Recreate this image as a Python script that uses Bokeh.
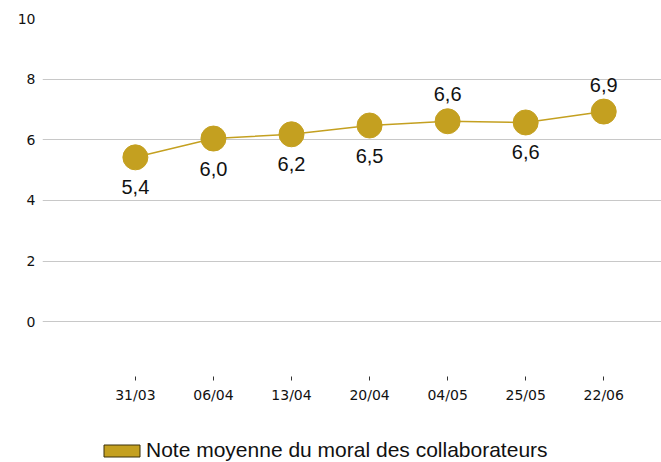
from bokeh.plotting import figure
from bokeh.layouts import column
from bokeh.models import ColumnDataSource, FixedTicker, Legend, LegendItem
from bokeh.core.properties import value
from bokeh.embed import file_html
from bokeh.resources import INLINE

dates = ["31/03", "06/04", "13/04", "20/04", "04/05", "25/05", "22/06"]
notes = [5.42, 6.04, 6.18, 6.47, 6.61, 6.57, 6.93]
label_side = ["below", "below", "below", "below", "above", "below", "above"]
series_name = "Note moyenne du moral des collaborateurs"
y_ticks = [0, 2, 4, 6, 8, 10]

GOLD = "#C4A020"

xs = list(range(len(dates)))
labels = [f"{v:.1f}".replace(".", ",") for v in notes]
offsets = [30 if s == "below" else -27 for s in label_side]

src = ColumnDataSource(dict(x=xs, y=notes, lab=labels, off=offsets))

p = figure(width=661, height=405, output_backend="svg", toolbar_location=None,
           x_range=(-1.19, 6.74), y_range=(-1.81, 10),
           min_border_left=42, min_border_right=0, min_border_top=18, min_border_bottom=28)
p.outline_line_color = None
p.background_fill_color = "white"

p.line("x", "y", source=src, line_color=GOLD, line_width=1.5)
p.scatter("x", "y", source=src, size=25, fill_color=GOLD, line_color=GOLD)
p.text("x", "y", text="lab", source=src, y_offset="off",
       text_align="center", text_baseline="middle",
       text_font=value("Liberation Sans"), text_font_size="20px", text_color="#111111")

# axes
p.yaxis.ticker = FixedTicker(ticks=y_ticks)
p.yaxis.axis_line_color = None
p.yaxis.major_tick_line_color = None
p.yaxis.minor_tick_line_color = None
p.yaxis.major_tick_in = 0
p.yaxis.major_tick_out = 0
p.yaxis.major_label_text_font = "DejaVu Sans"
p.yaxis.major_label_text_font_size = "14px"
p.yaxis.major_label_text_color = "#111111"
p.yaxis.major_label_standoff = 7

p.xaxis.ticker = FixedTicker(ticks=xs)
p.xaxis.major_label_overrides = {i: d for i, d in enumerate(dates)}
p.xaxis.axis_line_color = None
p.xaxis.major_tick_in = 0
p.xaxis.major_tick_out = 4
p.xaxis.major_tick_line_color = "#333333"
p.xaxis.minor_tick_line_color = None
p.xaxis.major_label_text_font = "DejaVu Sans"
p.xaxis.major_label_text_font_size = "14px"
p.xaxis.major_label_text_color = "#111111"
p.xaxis.major_label_standoff = 6

p.ygrid.grid_line_color = "#c8c8c8"
p.ygrid.grid_line_width = 1
p.xgrid.grid_line_color = None

# legend figure
lf = figure(width=661, height=57, output_backend="svg", toolbar_location=None,
            x_range=(0, 1), y_range=(0, 1), min_border=0)
lf.axis.visible = False
lf.grid.visible = False
lf.outline_line_color = None
dummy = lf.quad(left=[float("nan")], right=[float("nan")], top=[float("nan")],
                bottom=[float("nan")], fill_color=GOLD, line_color="#3a300a")
legend = Legend(items=[LegendItem(label=series_name, renderers=[dummy])],
                location=(57, 0), orientation="horizontal",
                glyph_width=45, glyph_height=15, label_standoff=2,
                label_text_font="Liberation Sans", label_text_font_size="21px",
                label_text_color="#111111", border_line_color=None,
                padding=0, margin=0, background_fill_alpha=0)
lf.add_layout(legend, "center")

layout = column(p, lf, spacing=0)
open("out.html", "w").write(file_html(layout, INLINE))
